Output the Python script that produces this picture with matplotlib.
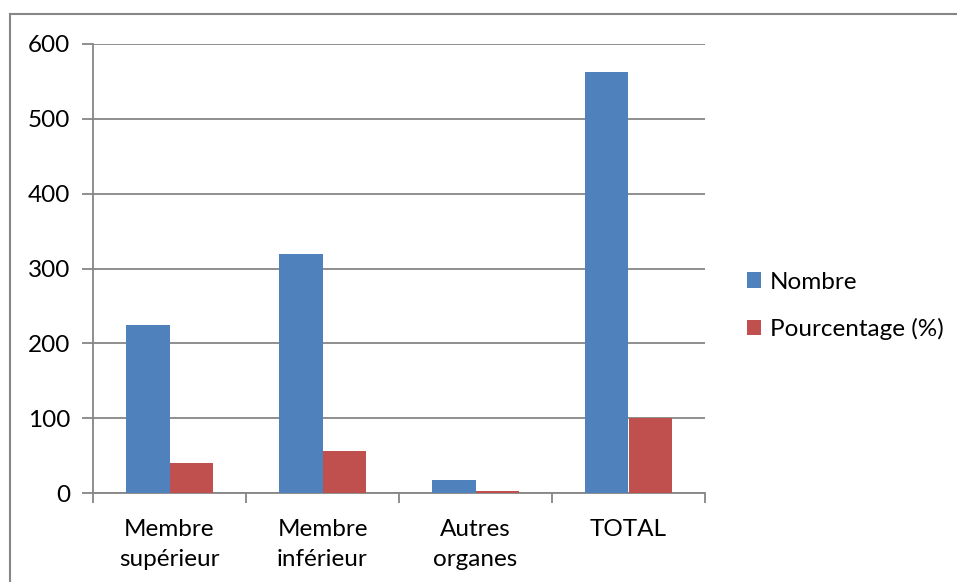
import matplotlib
matplotlib.use("Agg")
import matplotlib.pyplot as plt
from matplotlib.lines import Line2D
from matplotlib.patches import Patch
import numpy as np

categories = ["Membre\nsupérieur", "Membre\ninférieur", "Autres\norganes", "TOTAL"]
nombre = [225, 319, 18, 562]
pourcentage = [40.04, 56.76, 3.20, 100]
series_names = ["Nombre", "Pourcentage (%)"]
y_ticks = [0, 100, 200, 300, 400, 500, 600]

BLUE = "#4F81BD"
RED = "#C0504D"
GREY = "#868686"

plt.rcParams["font.family"] = ["Lato", "DejaVu Sans"]
plt.rcParams["font.size"] = 17.5

W, H = 957, 582
fig = plt.figure(figsize=(W / 100, H / 100), dpi=100)
ax = fig.add_axes([93 / W, 1 - 493 / H, (705 - 93) / W, (493 - 44) / H])

x = np.arange(len(categories))
w = 1 / 3.5
ax.bar(x - w / 2, nombre, width=w, color=BLUE, zorder=3)
ax.bar(x + w / 2, pourcentage, width=w, color=RED, zorder=3)

ax.set_xlim(-0.5, len(categories) - 0.5)
ax.set_ylim(0, 600)
ax.set_yticks(y_ticks)
ax.yaxis.grid(True, color=GREY, linewidth=1.3, zorder=0)
ax.set_axisbelow(True)

# category boundaries carry the tick marks, centres carry the labels
ax.set_xticks(np.arange(len(categories) + 1) - 0.5)
ax.set_xticklabels([])
ax.set_xticks(x, minor=True)
ax.set_xticklabels(categories, minor=True, linespacing=1.55)
ax.tick_params(axis="x", which="major", length=7, width=1.3, color=GREY)
ax.tick_params(axis="x", which="minor", length=0, pad=18.5)
ax.tick_params(axis="y", length=8, width=1.3, color=GREY, pad=8.5)

for side in ("top", "right"):
    ax.spines[side].set_visible(False)
for side in ("left", "bottom"):
    ax.spines[side].set_color(GREY)
    ax.spines[side].set_linewidth(1.3)

handles = [Patch(facecolor=BLUE), Patch(facecolor=RED)]
fig.legend(handles, series_names, loc="center left",
           bbox_to_anchor=(725 / W, 1 - 306 / H), frameon=False,
           handlelength=0.6, handleheight=0.6, handletextpad=0.35,
           labelspacing=1.05)

# outer chart-area frame
fig.add_artist(Line2D([10 / W, 1], [1 - 14 / H] * 2, color=GREY, linewidth=1.5))
fig.add_artist(Line2D([10 / W] * 2, [0, 1 - 14 / H], color=GREY, linewidth=1.5))

fig.savefig("out.png", dpi=100)
